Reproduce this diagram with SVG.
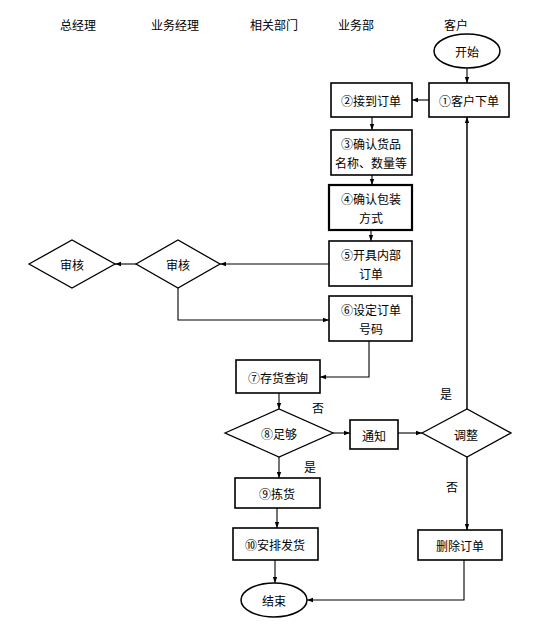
<svg xmlns="http://www.w3.org/2000/svg" width="546" height="630" viewBox="0 0 546 630">
<defs>
<style>
text{font-family:"Noto Sans CJK SC","Noto Sans CJK JP",sans-serif;font-size:12px;fill:#000;text-anchor:middle;dominant-baseline:central}
.box{fill:#fff;stroke:#000;stroke-width:1.6}
.bold{stroke-width:2.2}
.dia{fill:#fff;stroke:#000;stroke-width:1.3}
.ell{fill:#fff;stroke:#000;stroke-width:1.5}
.c{fill:none;stroke:#000;stroke-width:1.1}
</style>
<marker id="a" markerWidth="7" markerHeight="6" refX="6" refY="3" orient="auto" markerUnits="userSpaceOnUse">
<path d="M0,0.8 L6,3 L0,5.2 Z" fill="#000"/>
</marker>
</defs>
<rect width="546" height="630" fill="#fff"/>
<g id="headers">
<text x="78" y="24">总经理</text>
<text x="175" y="24">业务经理</text>
<text x="274" y="24">相关部门</text>
<text x="356" y="24">业务部</text>
<text x="456" y="24">客户</text>
</g>
<g id="connectors">
<line class="c" x1="467" y1="68" x2="467" y2="83" marker-end="url(#a)"/>
<line class="c" x1="429" y1="100" x2="412" y2="100" marker-end="url(#a)"/>
<line class="c" x1="372" y1="117" x2="372" y2="130" marker-end="url(#a)"/>
<line class="c" x1="372" y1="175" x2="372" y2="185" marker-end="url(#a)"/>
<line class="c" x1="371" y1="230" x2="371" y2="241" marker-end="url(#a)"/>
<line class="c" x1="329" y1="264" x2="220" y2="264" marker-end="url(#a)"/>
<line class="c" x1="136" y1="264" x2="115" y2="264" marker-end="url(#a)"/>
<polyline class="c" points="178,288 178,320 329,320" marker-end="url(#a)"/>
<polyline class="c" points="369,341 369,377 320,377" marker-end="url(#a)"/>
<line class="c" x1="279" y1="393" x2="279" y2="409" marker-end="url(#a)"/>
<line class="c" x1="333" y1="433" x2="350" y2="433" marker-end="url(#a)"/>
<line class="c" x1="398" y1="433" x2="422" y2="433" marker-end="url(#a)"/>
<line class="c" x1="467" y1="409" x2="467" y2="117" marker-end="url(#a)" style="stroke-width:1.5"/>
<line class="c" x1="467" y1="457" x2="467" y2="530" marker-end="url(#a)" style="stroke-width:1.5"/>
<line class="c" x1="279" y1="457" x2="279" y2="478" marker-end="url(#a)"/>
<line class="c" x1="277" y1="508" x2="277" y2="528" marker-end="url(#a)"/>
<line class="c" x1="275" y1="560" x2="275" y2="583" marker-end="url(#a)"/>
<polyline class="c" points="464,560 464,600 307,600" marker-end="url(#a)"/>
<text x="318" y="407">否</text>
<text x="446" y="393">是</text>
<text x="452" y="486">否</text>
<text x="310" y="466">是</text>
</g>
<g id="start"><ellipse class="ell" cx="467" cy="51" rx="33" ry="17"/><text x="467" y="51">开始</text></g>
<g id="n1"><rect class="box" x="429" y="83" width="80" height="34"/><text x="469" y="100">①客户下单</text></g>
<g id="n2"><rect class="box" x="331" y="83" width="81" height="34"/><text x="371" y="100">②接到订单</text></g>
<g id="n3"><rect class="box" x="331" y="130" width="81" height="45"/><text x="371" y="143">③确认货品</text><text x="371" y="162">名称、数量等</text></g>
<g id="n4"><rect class="box bold" x="329" y="185" width="83" height="45"/><text x="371" y="198">④确认包装</text><text x="371" y="217">方式</text></g>
<g id="n5"><rect class="box" x="329" y="241" width="83" height="45"/><text x="371" y="254">⑤开具内部</text><text x="371" y="273">订单</text></g>
<g id="n6"><rect class="box" x="329" y="296" width="83" height="45"/><text x="371" y="309">⑥设定订单</text><text x="371" y="328">号码</text></g>
<g id="audit2"><polygon class="dia" points="136,264 178,240 220,264 178,288"/><text x="178" y="264">审核</text></g>
<g id="audit1"><polygon class="dia" points="29,264 72,240 115,264 72,288"/><text x="72" y="264">审核</text></g>
<g id="n7"><rect class="box" x="236" y="360" width="84" height="33"/><text x="278" y="377">⑦存货查询</text></g>
<g id="n8"><polygon class="dia" points="225,433 279,409 333,433 279,457"/><text x="279" y="433">⑧足够</text></g>
<g id="notify"><rect class="box" x="350" y="420" width="48" height="29"/><text x="374" y="435">通知</text></g>
<g id="adjust"><polygon class="dia" points="422,433 467,409 511,433 467,457"/><text x="466" y="434">调整</text></g>
<g id="n9"><rect class="box" x="235" y="478" width="85" height="30"/><text x="277" y="493">⑨拣货</text></g>
<g id="n10"><rect class="box" x="233" y="528" width="85" height="32"/><text x="275" y="544">⑩安排发货</text></g>
<g id="delete"><rect class="box" x="418" y="530" width="84" height="30"/><text x="460" y="545">删除订单</text></g>
<g id="end"><ellipse class="ell" cx="274" cy="600" rx="33" ry="17"/><text x="274" y="600">结束</text></g>
</svg>
